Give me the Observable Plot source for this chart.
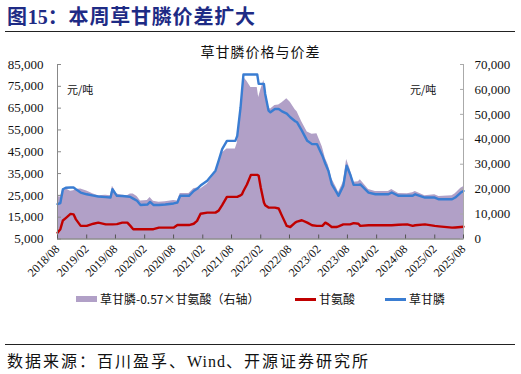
<!DOCTYPE html>
<html><head><meta charset="utf-8">
<script src="https://cdn.jsdelivr.net/npm/d3@7"></script>
<script src="https://cdn.jsdelivr.net/npm/@observablehq/plot@0.6"></script>
<style>
body{margin:0;background:#fff;}
#wrap{position:relative;width:521px;height:374px;overflow:hidden;font-family:"Noto Sans CJK SC",sans-serif;color:#111;}
#head{position:absolute;left:7px;top:6px;font-size:20px;line-height:20px;font-weight:bold;color:#1e2b85;letter-spacing:0.8px;white-space:nowrap;}
#head .num{font-family:"Liberation Serif",serif;font-weight:bold;letter-spacing:0;}
.hr{position:absolute;left:5px;width:510px;height:1px;background:#222;}
#chart{position:absolute;left:0;top:36px;}
#ctitle{position:absolute;left:0;width:521px;text-align:center;top:44px;font-size:14px;line-height:14px;letter-spacing:1px;}
.unit{position:absolute;top:83px;font-size:11px;line-height:12px;}
.lg{position:absolute;font-size:12px;line-height:12px;top:293px;white-space:nowrap;}
.sw{position:absolute;}
#caption{position:absolute;left:7px;top:352px;font-size:16px;line-height:16px;letter-spacing:2px;white-space:nowrap;}
#caption .lat{font-family:"Liberation Serif",serif;letter-spacing:1px;}
</style>
</head><body>
<div id="wrap">
  <div id="head">图<span class="num">15</span>：本周草甘膦价差扩大</div>
  <div class="hr" style="top:31px"></div>
  <div id="chart"></div>
  <div id="ctitle"></div>
  <div class="unit" style="left:67px">元/吨</div>
  <div class="unit" style="left:410px">元/吨</div>
  <div id="legend"></div>
  <div class="hr" style="top:344px"></div>
  <div id="caption">数据来源：百川盈孚、<span class="lat">Wind</span>、开源证券研究所</div>
</div>
<script>
const chartTitle = "草甘膦价格与价差";
const seriesNames = ["草甘膦-0.57×甘氨酸（右轴）", "甘氨酸", "草甘膦"];
const xTickLabels = ["2018/08","2019/02","2019/08","2020/02","2020/08","2021/02","2021/08","2022/02","2022/08","2023/02","2023/08","2024/02","2024/08","2025/02","2025/08"];
const leftTicks = [5000,15000,25000,35000,45000,55000,65000,75000,85000];
const rightTicks = [0,10000,20000,30000,40000,50000,60000,70000];

const dates = [
"2018-08-01","2018-08-19","2018-09-04","2018-09-22","2018-10-22","2018-11-10","2018-11-25","2018-12-25",
"2019-02-01","2019-03-15","2019-04-15","2019-06-01","2019-07-01","2019-07-13","2019-08-10","2019-09-13","2019-10-15","2019-11-03","2019-11-21","2019-12-15",
"2020-01-06","2020-02-18","2020-03-06","2020-03-27","2020-05-01","2020-06-10","2020-08-01","2020-08-25","2020-09-12","2020-11-06","2020-12-06","2020-12-27",
"2021-01-18","2021-03-01","2021-04-22","2021-05-12","2021-06-03","2021-07-03","2021-08-25","2021-09-06","2021-09-27","2021-10-06","2021-10-15","2021-11-06","2021-12-01",
"2022-01-10","2022-01-19","2022-02-01","2022-02-21","2022-03-01","2022-03-22","2022-04-03","2022-05-01","2022-05-25","2022-06-15","2022-07-15","2022-08-06","2022-09-06","2022-09-18","2022-10-18","2022-11-21","2022-12-21",
"2023-01-21","2023-02-24","2023-03-15","2023-04-03","2023-04-24","2023-05-24","2023-06-06","2023-07-06","2023-07-27","2023-08-18","2023-09-09","2023-10-09","2023-10-21","2023-12-12",
"2024-01-24","2024-04-15","2024-05-06","2024-06-18","2024-08-12","2024-09-15","2024-10-01","2024-12-01",
"2025-02-01","2025-02-27","2025-05-21","2025-06-10","2025-07-15","2025-08-01"];

// 草甘膦 (left axis)
const glyphosate = [
21000,21500,27800,28500,28600,28600,27800,26300,
25500,24900,24500,24200,24000,27800,24800,24700,24500,24300,23500,22500,
20600,20800,22000,20600,20600,20800,21300,21700,24800,24800,27000,28000,
29500,31700,36300,40900,46200,50000,50000,52300,65400,73000,80400,80400,80400,
80400,76100,76100,76100,71500,63900,63100,64600,64600,63500,62500,60800,59000,58500,54700,50000,48500,
48500,43200,39500,36300,30200,26500,24800,29400,38600,34700,29800,29800,30000,26300,
25500,25500,26300,24800,24800,24800,25500,24000,
24000,23200,23200,24000,26300,27000];

// 甘氨酸 (left axis)
const glycine = [
7900,9500,13500,14600,16500,16300,14000,11000,
11000,12000,12500,11700,11700,11700,11800,12500,12500,11000,9500,9500,
9450,9450,9450,9500,10200,10200,10200,11400,11400,11400,12000,13300,
16600,17100,17100,18000,20500,24300,24300,24300,25000,25500,27000,30000,34400,
34400,34000,28600,21700,20500,19400,19400,19400,19000,15600,11000,10500,12500,13000,13600,12500,11300,
11000,11000,12500,11700,10500,10500,10800,11700,11700,11700,12300,12000,11000,11300,
11300,11300,11300,11500,11700,11000,11300,11700,
11000,10800,10200,10300,10500,10600];

// 草甘膦-0.57×甘氨酸 (right axis)
const spread = [
17000,16800,20100,20180,19200,19310,19820,20030,
19230,18060,17380,17530,17330,21130,18070,17580,17380,18030,18090,17090,
15210,15410,16610,15190,14790,14990,15490,15200,18300,18300,20160,20420,
20040,21950,26550,30640,34520,36150,36150,38450,51150,58470,65010,63300,60790,
60790,56720,59800,63730,59820,52840,52040,53540,53770,54610,56230,54820,51880,51090,46950,42880,42060,
42230,36930,32380,29630,24220,20520,18640,22730,31930,28030,22790,22960,23730,19860,
19060,19060,19860,18250,18130,18530,19060,17330,
17730,17040,17390,18130,20320,20960];

const colors = {spread:"#b1a0c7", glycine:"#c00000", glyphosate:"#3a7dd2"};

const parse = d3.utcParse("%Y-%m-%d");
const rows = dates.map((d,i)=>({date:parse(d), glyphosate:glyphosate[i], glycine:glycine[i], spread:spread[i]}));
const xTicks = xTickLabels.map(s=>d3.utcParse("%Y/%m")(s));
const yMin = leftTicks[0], yMax = leftTicks[leftTicks.length-1];
const rMax = rightTicks[rightTicks.length-1];
const toLeft = r => yMin + r*(yMax-yMin)/rMax;
const toRight = v => (v-yMin)*rMax/(yMax-yMin);
const fmt = d3.format(",");
const xDomain = [xTicks[0], xTicks[xTicks.length-1]];
const serif = "Liberation Serif";

const plot = Plot.plot({
  width:521, height:262,
  marginTop:28, marginBottom:59.5, marginLeft:57, marginRight:58,
  x:{type:"utc", domain:xDomain},
  y:{domain:[yMin,yMax]},
  style:{background:"transparent", overflow:"visible"},
  marks:[
    Plot.areaY(rows,{x:"date", y1:yMin, y2:d=>toLeft(d.spread), fill:colors.spread}),
    Plot.lineY(rows,{x:"date", y:"glycine", stroke:colors.glycine, strokeWidth:2.4}),
    Plot.lineY(rows,{x:"date", y:"glyphosate", stroke:colors.glyphosate, strokeWidth:2.4}),
    Plot.ruleX([xDomain[0]],{stroke:"#888"}),
    Plot.ruleX([xDomain[1]],{stroke:"#aaa"}),
    Plot.ruleY([yMin],{stroke:"#555"}),
    Plot.axisY({anchor:"left", ticks:leftTicks, tickSize:-4, stroke:"#888", tickFormat:()=>""}),
    Plot.axisY({anchor:"left", ticks:leftTicks, tickSize:0, tickPadding:14, tickFormat:fmt, fontSize:13, fontFamily:serif, fill:"#111"}),
    Plot.axisY({anchor:"right", ticks:rightTicks.map(toLeft), tickSize:-4, stroke:"#aaa", tickFormat:()=>""}),
    Plot.axisY({anchor:"right", ticks:rightTicks.map(toLeft), tickSize:0, tickPadding:11, tickFormat:v=>fmt(Math.round(toRight(v))), fontSize:13, fontFamily:serif, fill:"#111"}),
    Plot.axisX({ticks:xTicks, tickSize:-4, stroke:"#555", tickFormat:()=>""}),
    Plot.axisX({ticks:xTicks, tickSize:0, tickPadding:8, tickRotate:-45, tickFormat:d3.utcFormat("%Y/%m"), fontSize:12, fontFamily:serif, fill:"#111"})
  ]
});
document.getElementById("chart").appendChild(plot);
document.getElementById("ctitle").textContent = chartTitle;

const lg = document.getElementById("legend");
const items = [
  {x:76, w:21, h:6, color:colors.spread, tx:100, name:seriesNames[0]},
  {x:295, w:21, h:3, color:colors.glycine, tx:319, name:seriesNames[1]},
  {x:385, w:21, h:3, color:colors.glyphosate, tx:409, name:seriesNames[2]}
];
for (const it of items) {
  const s = document.createElement("div");
  s.className = "sw";
  s.style.cssText = `left:${it.x}px;top:${299-it.h/2}px;width:${it.w}px;height:${it.h}px;background:${it.color};`;
  lg.appendChild(s);
  const t = document.createElement("div");
  t.className = "lg";
  t.style.left = it.tx+"px";
  t.textContent = it.name;
  lg.appendChild(t);
}
</script>
</body></html>
